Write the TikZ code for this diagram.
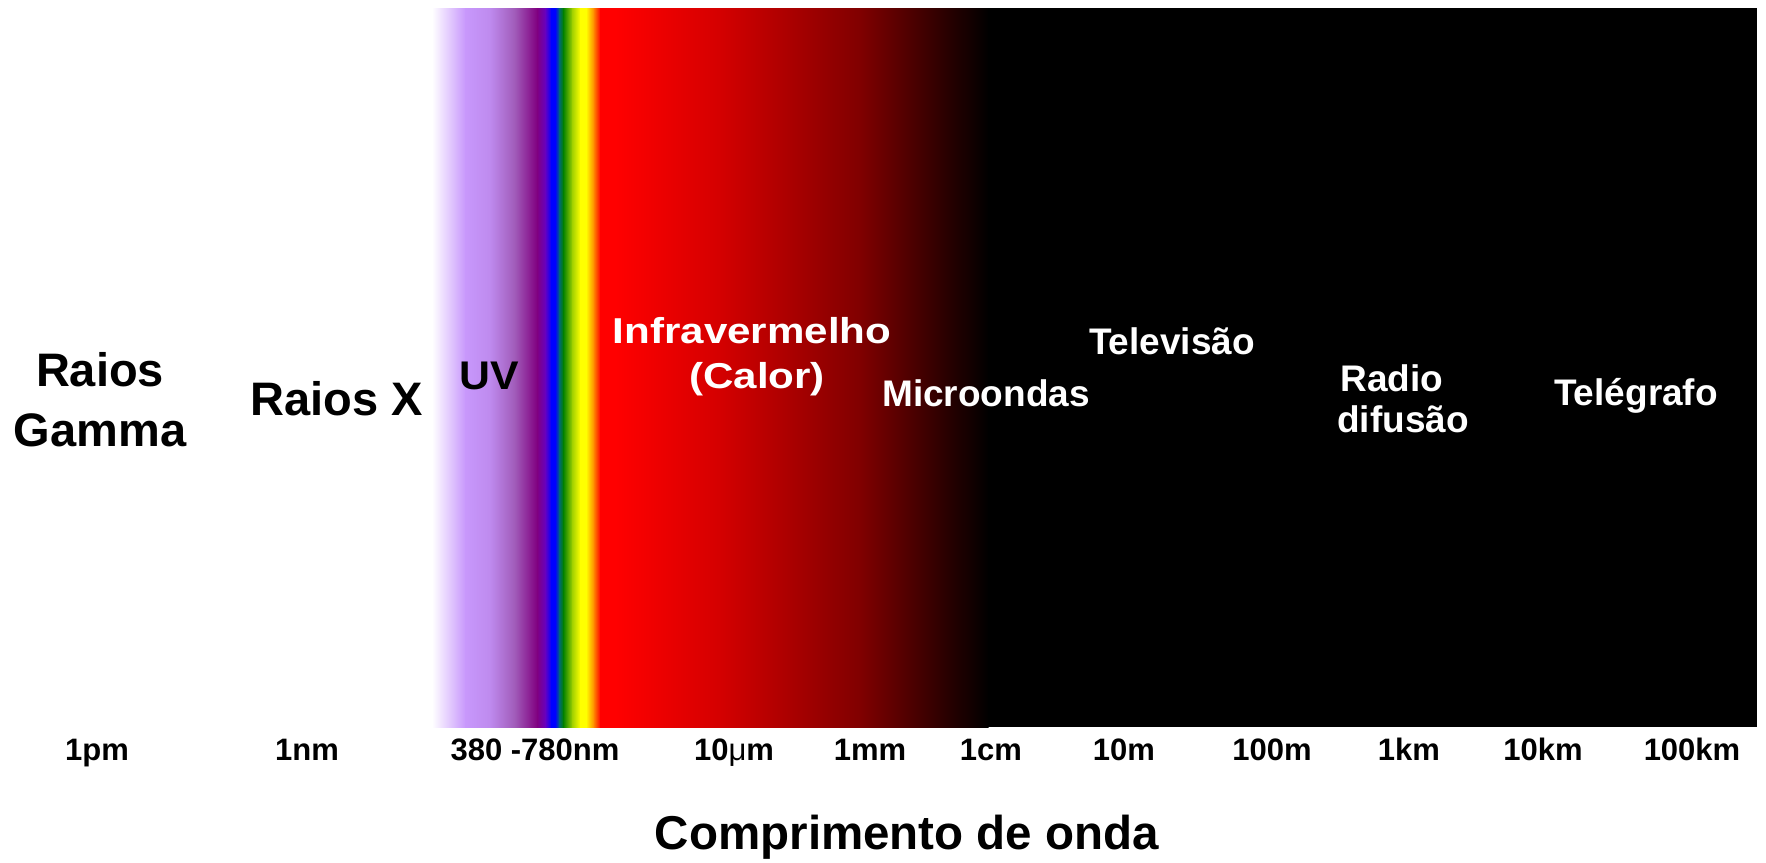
\documentclass[tikz,border=0pt]{standalone}
\usepackage{fontspec}
\setmainfont{Liberation Sans}
\newfontfamily\widefont{Liberation Sans}[FakeStretch=1.17]
\newfontfamily\uvfont{Liberation Sans}[FakeStretch=1.07]
\definecolor{lav}{RGB}{200,152,252}
\definecolor{lavb}{RGB}{190,138,238}
\definecolor{mauve}{RGB}{160,90,184}
\definecolor{purp}{RGB}{128,0,128}
\definecolor{indig}{RGB}{104,0,192}
\definecolor{blu}{RGB}{0,0,255}
\definecolor{teal2}{RGB}{0,104,120}
\definecolor{grn}{RGB}{0,128,0}
\definecolor{ygrn}{RGB}{160,208,0}
\definecolor{yel}{RGB}{255,255,0}
\definecolor{ora}{RGB}{255,128,0}
\definecolor{rd}{RGB}{255,0,0}
\definecolor{rdb}{RGB}{212,0,0}
\definecolor{rdc}{RGB}{128,0,0}
\tikzset{
  lbl/.style={anchor=base, inner sep=0pt},
  big/.style={lbl, font=\bfseries\fontsize{47}{56}\selectfont},
  mid/.style={lbl, font=\bfseries\fontsize{37}{44}\selectfont},
  wide/.style={lbl, text=white, font=\widefont\bfseries\fontsize{36}{43}\selectfont},
  ticklbl/.style={lbl, font=\bfseries\fontsize{31}{37}\selectfont},
  ttl/.style={lbl, font=\bfseries\fontsize{47.5}{56}\selectfont}
}
\begin{document}
\begin{tikzpicture}[x=1pt,y=-1pt]
\useasboundingbox (0,0) rectangle (1766,862);
% spectrum
\foreach \a/\ca/\b/\cb in {432/white/465/lav, 465/lav/490/lavb, 490/lavb/515/mauve,
  515/mauve/537/purp, 537/purp/545/indig, 545/indig/551/blu, 551/blu/555/blu,
  555/blu/559/teal2, 559/teal2/563/grn, 563/grn/572/ygrn, 572/ygrn/580/yel,
  580/yel/586/yel, 586/yel/594/ora, 594/ora/600/rd, 600/rd/615/rd,
  615/rd/720/rdb, 720/rdb/860/rdc, 860/rdc/988/black}
  {\fill[left color=\ca, right color=\cb] (\a,8) rectangle ({\b+0.6},727);}
\fill[black] (988,8) rectangle (1757,727);
% band labels
\node[big] (gam1) at (100,386) {Raios};
\node[big] (gam2) at (100,446) {Gamma};
\node[big] (rx) at (337,415) {Raios X};
\node[lbl, font=\uvfont\bfseries\fontsize{40}{48}\selectfont] (uv) at (489,389) {UV};
\node[wide] (ir1) at (752,343) {Infravermelho};
\node[wide] (ir2) at (757,388) {(Calor)};
\node[mid, text=white] (mw) at (986,406) {Microondas};
\node[mid, text=white] (tv) at (1172,354) {Televisão};
\node[mid, text=white] (rd1) at (1392,391) {Radio};
\node[mid, text=white] (rd2) at (1403,432) {difusão};
\node[mid, text=white] (tg) at (1636,405) {Telégrafo};
% scale labels
\node[ticklbl] (s1) at (97,760) {1pm};
\node[ticklbl] (s2) at (307,760) {1nm};
\node[ticklbl] (s3) at (535,760) {380 -780nm};
\node[ticklbl] (s4) at (734,760) {10{\mdseries μ}m};
\node[ticklbl] (s5) at (870,760) {1mm};
\node[ticklbl] (s6) at (991,760) {1cm};
\node[ticklbl] (s7) at (1124,760) {10m};
\node[ticklbl] (s8) at (1272,760) {100m};
\node[ticklbl] (s9) at (1409,760) {1km};
\node[ticklbl] (s10) at (1543,760) {10km};
\node[ticklbl] (s11) at (1692,760) {100km};
\node[ttl] (title) at (907,849) {Comprimento de onda};
\end{tikzpicture}
\end{document}
